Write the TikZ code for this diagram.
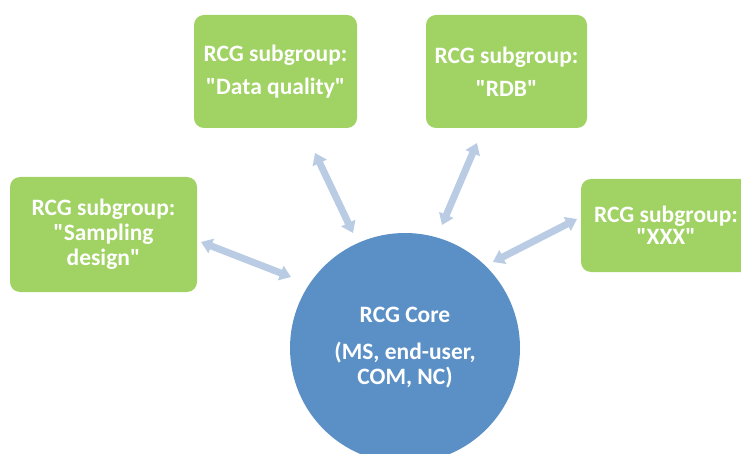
\documentclass[tikz,border=0pt]{standalone}
\usepackage{fontspec}
\setmainfont{Carlito}[Ligatures=TeXOff]
\usetikzlibrary{arrows.meta}
\definecolor{boxgreen}{RGB}{160,210,100}
\definecolor{coreblue}{RGB}{91,144,198}
\definecolor{arrowblue}{RGB}{185,204,228}
\begin{document}
\begin{tikzpicture}[x=1pt,y=-1pt,
  subbox/.style={rectangle, rounded corners=10pt, fill=boxgreen, text=white, inner sep=0pt, align=center, font=\bfseries\fontsize{23.5}{25}\selectfont},
  corecircle/.style={circle, fill=coreblue, text=white, inner sep=0pt, minimum size=230pt, align=center, font=\bfseries\fontsize{23.5}{25}\selectfont},
  link/.style={draw=arrowblue, line width=7pt, {Triangle[length=11pt,width=15pt]}-{Triangle[length=11pt,width=15pt]}}
]
\useasboundingbox (0,0) rectangle (741,454);
\clip (0,0) rectangle (741,454);

\node[subbox, minimum width=187pt, minimum height=115pt] (b1) at (103.5,234.5) {RCG subgroup:\\"Sampling\\design"};
\node[subbox, minimum width=163pt, minimum height=113pt] (b2) at (275.5,71.5) {RCG subgroup:\\[8pt]"Data quality"};
\node[subbox, minimum width=161pt, minimum height=113pt] (b3) at (506.5,71.5) {RCG subgroup:\\[8pt]"RDB"};
\node[subbox, minimum width=170pt, minimum height=93pt] (b4) at (666,225.5) {RCG subgroup:\\[-3pt]"XXX"};

\node[corecircle] (core) at (405,348) {RCG Core\\[12pt](MS, end-user,\\COM, NC)};

\coordinate (a1s) at (201,242); \coordinate (a1e) at (291,277);
\coordinate (a2s) at (315,153); \coordinate (a2e) at (353,233);
\coordinate (a3s) at (477,143); \coordinate (a3e) at (442,225);
\coordinate (a4s) at (577,219); \coordinate (a4e) at (493,262);

\draw[link] (a1s) -- (a1e);
\draw[link] (a2s) -- (a2e);
\draw[link] (a3s) -- (a3e);
\draw[link] (a4s) -- (a4e);
\end{tikzpicture}
\end{document}
